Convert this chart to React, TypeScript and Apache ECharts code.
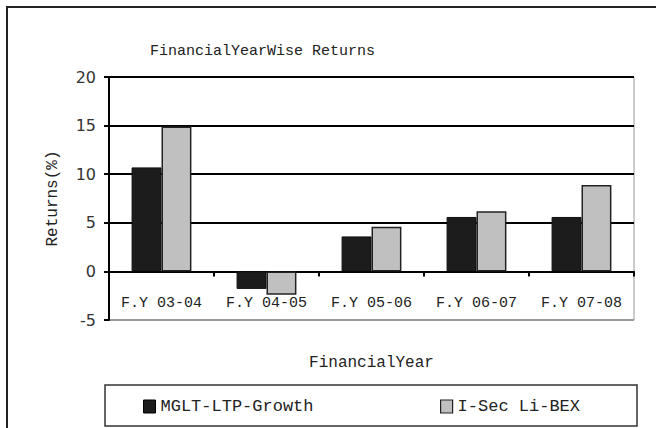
import React, { useEffect, useRef } from "react";
import * as echarts from "echarts";

const categories = ["F.Y 03-04", "F.Y 04-05", "F.Y 05-06", "F.Y 06-07", "F.Y 07-08"];
const mgltValues = [10.7, -1.8, 3.6, 5.6, 5.6];
const isecValues = [14.9, -2.4, 4.6, 6.2, 8.9];
const seriesNames = ["MGLT-LTP-Growth", "I-Sec Li-BEX"];
const titleText = "FinancialYearWise Returns";
const yName = "Returns(%)";
const xName = "FinancialYear";

export default function App() {
  const ref = useRef<HTMLDivElement>(null);
  useEffect(() => {
    if (!ref.current) return;
    const chart = echarts.init(ref.current, undefined, { renderer: "svg" });
    const mono = "Liberation Mono";
    chart.setOption({
      animation: false,
      backgroundColor: "#fff",
      title: {
        text: titleText,
        left: 150,
        top: 44,
        padding: 0,
        textStyle: { fontFamily: mono, fontSize: 15, fontWeight: "normal", color: "#222" },
      },
      legend: [
        {
          data: [seriesNames[0]],
          left: 143,
          top: 398,
          padding: 0,
          itemWidth: 12,
          itemHeight: 13,
          itemGap: 5,
          icon: "rect",
          itemStyle: { borderColor: "#000", borderWidth: 1 },
          textStyle: { fontFamily: mono, fontSize: 17, color: "#222" },
        },
        {
          data: [seriesNames[1]],
          left: 440,
          top: 398,
          padding: 0,
          itemWidth: 12,
          itemHeight: 13,
          icon: "rect",
          itemStyle: { borderColor: "#222", borderWidth: 1.2 },
          textStyle: { fontFamily: mono, fontSize: 17, color: "#222" },
        },
      ],
      graphic: [
        {
          type: "rect",
          shape: { x: 7, y: 7, width: 700, height: 500 },
          style: { fill: "none", stroke: "#222", lineWidth: 2 },
          silent: true,
        },
        {
          type: "rect",
          shape: { x: 105, y: 385, width: 532, height: 41 },
          style: { fill: "none", stroke: "#333", lineWidth: 1.5 },
          silent: true,
        },
      ],
      grid: {
        left: 109,
        right: 22,
        top: 77,
        bottom: 108,
        show: true,
        borderColor: "#999",
        borderWidth: 1,
      },
      xAxis: {
        type: "category",
        data: categories,
        name: xName,
        nameLocation: "middle",
        nameGap: 84,
        offset: -48.6,
        nameTextStyle: { fontFamily: mono, fontSize: 16, color: "#222" },
        axisLine: { onZero: false, lineStyle: { color: "#000", width: 2 } },
        axisTick: { show: true, length: 5, lineStyle: { color: "#000", width: 2 } },
        axisLabel: { interval: 0, margin: 25, fontFamily: mono, fontSize: 15, color: "#222" },
      },
      yAxis: {
        type: "value",
        min: -5,
        max: 20,
        interval: 5,
        name: yName,
        nameLocation: "middle",
        nameGap: 48,
        nameTextStyle: { fontFamily: mono, fontSize: 16, color: "#222" },
        axisLine: { show: true, lineStyle: { color: "#000", width: 2 } },
        axisTick: { show: true, length: 5, lineStyle: { color: "#000", width: 2 } },
        axisLabel: { margin: 13, fontFamily: "DejaVu Sans", fontSize: 16, color: "#333" },
        splitLine: {
          show: true,
          lineStyle: { color: ["#999", "#000", "#000", "#000", "#000", "#000"], width: 2 },
        },
      },
      series: [
        {
          name: seriesNames[0],
          type: "bar",
          data: mgltValues,
          barGap: "0%",
          barCategoryGap: "43%",
          itemStyle: { color: "#1c1c1c", borderColor: "#111", borderWidth: 1 },
        },
        {
          name: seriesNames[1],
          type: "bar",
          data: isecValues,
          barGap: "0%",
          barCategoryGap: "43%",
          itemStyle: { color: "#c0c0c0", borderColor: "#222", borderWidth: 1.5 },
        },
      ],
    });
    return () => chart.dispose();
  }, []);
  return (
    <div
      ref={ref}
      style={{ position: "absolute", left: 0, top: 0, width: 656, height: 428 }}
    />
  );
}
